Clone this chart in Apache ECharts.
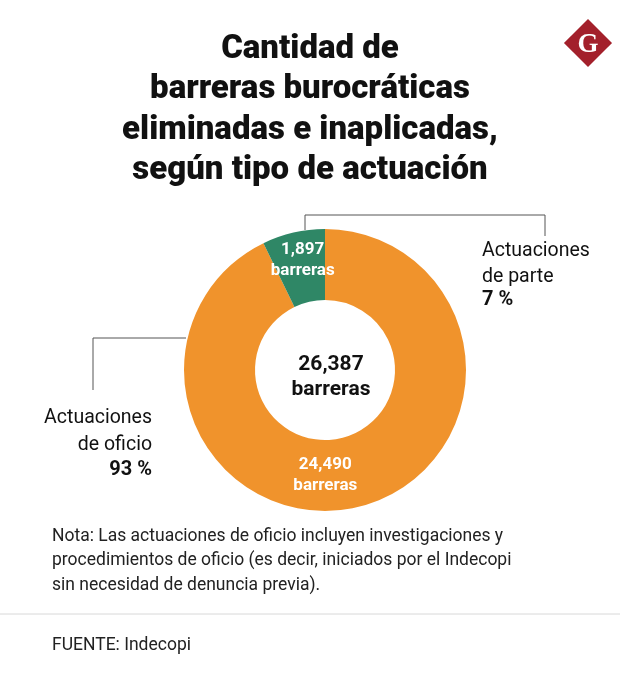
<!DOCTYPE html>
<html><head><meta charset="utf-8">
<script src="https://cdn.jsdelivr.net/npm/echarts@6/dist/echarts.min.js"></script>
<style>html,body{margin:0;padding:0;background:#fff}#c{width:620px;height:685px}</style>
</head><body><div id="c"></div>
<script>
const categories = ['Actuaciones de oficio', 'Actuaciones de parte'];
const values = [24490, 1897];
const percentLabels = ['93 %', '7 %'];
const totalValue = 26387;
const colors = ['#F0932C', '#2F8766'];

const fmt = v => v.toLocaleString('en-US');
const chart = echarts.init(document.getElementById('c'));
const F = 'Roboto, "Noto Sans", sans-serif';
chart.setOption({
  animation: false,
  backgroundColor: '#fff',
  title: {
    text: 'Cantidad de\nbarreras burocráticas\neliminadas e inaplicadas,\nsegún tipo de actuación',
    left: 305, top: 24, textAlign: 'center',
    textStyle: { fontFamily: F, fontWeight: 900, fontSize: 33, lineHeight: 40.5, color: '#111' }
  },
  series: [{
    type: 'pie',
    center: [325, 370],
    radius: [70, 141],
    startAngle: 90,
    clockwise: true,
    silent: true,
    data: categories.map((n, i) => ({
      name: n, value: values[i], itemStyle: { color: colors[i] },
      label: i === 0 ? { offset: [-24, 0] } : { offset: [2, -4] }
    })),
    label: {
      show: true, position: 'inside',
      formatter: p => fmt(p.value) + '\nbarreras',
      fontFamily: F, fontWeight: 'bold', fontSize: 17, lineHeight: 21, color: '#fff'
    },
    labelLine: { show: false }
  }],
  graphic: [
    { type: 'text', style: { text: fmt(totalValue) + '\nbarreras', x: 331, y: 377, align: 'center', verticalAlign: 'middle', font: 'bold 21px ' + F, lineHeight: 25, fill: '#111' } },
    // leader lines
    { type: 'polyline', shape: { points: [[305, 230], [305, 215], [545, 215], [545, 236]] }, style: { stroke: '#555', lineWidth: 1, fill: null } },
    { type: 'polyline', shape: { points: [[186, 338], [93, 338], [93, 390]] }, style: { stroke: '#555', lineWidth: 1, fill: null } },
    // right label
    { type: 'text', style: { text: 'Actuaciones\nde parte', x: 482, y: 238, font: '19.5px ' + F, lineHeight: 26, fill: '#111' } },
    { type: 'text', style: { text: percentLabels[1], x: 482, y: 290, font: 'bold 20px ' + F, fill: '#111' } },
    // left label
    { type: 'text', style: { text: 'Actuaciones\nde oficio', x: 152, y: 405, align: 'right', font: '19.5px ' + F, lineHeight: 27, fill: '#111' } },
    { type: 'text', style: { text: percentLabels[0], x: 152, y: 460, align: 'right', font: 'bold 20px ' + F, fill: '#111' } },
    // note
    { type: 'text', style: { text: 'Nota: Las actuaciones de oficio incluyen investigaciones y\nprocedimientos de oficio (es decir, iniciados por el Indecopi\nsin necesidad de denuncia previa).', x: 52, y: 524, font: '17.5px ' + F, lineHeight: 24.5, fill: '#222' } },
    { type: 'line', shape: { x1: 0, y1: 614, x2: 620, y2: 614 }, style: { stroke: '#d8d8d8', lineWidth: 1 } },
    { type: 'text', style: { text: 'FUENTE: Indecopi', x: 52, y: 637, font: '17.5px ' + F, fill: '#222' } },
    // logo
    { type: 'rect', x: 588, y: 43, rotation: Math.PI / 4, shape: { x: -17, y: -17, width: 34, height: 34 }, style: { fill: '#A3202B' } },
    { type: 'text', style: { text: 'G', x: 588, y: 45, align: 'center', verticalAlign: 'middle', font: 'bold 27px "Liberation Serif", "DejaVu Serif", serif', fill: '#fff' } }
  ]
});
</script></body></html>
